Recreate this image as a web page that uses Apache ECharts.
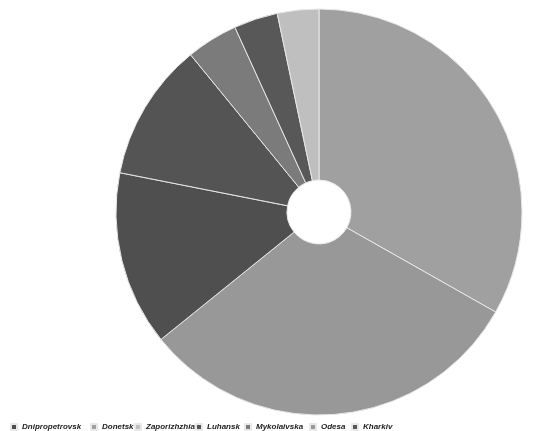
<!DOCTYPE html>
<html>
<head>
<meta charset="utf-8">
<script src="https://cdn.jsdelivr.net/npm/echarts@6/dist/echarts.min.js"></script>
<style>
    html, body { margin: 0; padding: 0; background: #fff; }
    #main { width: 534px; height: 431px; }
</style>
</head>
<body>
<div id="main"></div>
<script>
// slices, clockwise from 12 o'clock
var regions = ['Donetsk', 'Odesa', 'Dnipropetrovsk', 'Luhansk', 'Mykolaivska', 'Kharkiv', 'Zaporizhzhia'];
var shares = [33.2, 31.0, 13.9, 11.0, 4.1, 3.5, 3.3];
// legend order as shown under the chart
var legend_names = ['Dnipropetrovsk', 'Donetsk', 'Zaporizhzhia', 'Luhansk', 'Mykolaivska', 'Odesa', 'Kharkiv'];

var slice_colors = {
    'Donetsk': '#a0a0a0',
    'Odesa': '#989898',
    'Dnipropetrovsk': '#4f4f4f',
    'Luhansk': '#545454',
    'Mykolaivska': '#7b7b7b',
    'Kharkiv': '#585858',
    'Zaporizhzhia': '#bfbfbf'
};
// x of each legend item, as in the picture
var legend_left = [10, 90, 134, 195, 244, 309, 351];

var series_data = [];
for (var i = 0; i < regions.length; i++) {
    series_data.push({
        name: regions[i],
        value: shares[i],
        itemStyle: { color: slice_colors[regions[i]] }
    });
}

var legends = [];
for (var j = 0; j < legend_names.length; j++) {
    legends.push({
        data: [legend_names[j]],
        left: legend_left[j],
        top: 423,
        itemWidth: 6,
        itemHeight: 6,
        icon: 'rect',
        padding: 0,
        textStyle: {
            fontFamily: 'Liberation Sans',
            fontSize: 8,
            fontStyle: 'italic',
            fontWeight: 'bold',
            color: '#222'
        }
    });
}

var myChart = echarts.init(document.getElementById('main'));
var option = {
    backgroundColor: '#ffffff',
    animation: false,
    legend: legends,
    series: [
        {
            name: 'Regions',
            type: 'pie',
            center: [319, 212],
            radius: [32, 203],
            startAngle: 90,
            clockwise: true,
            label: { show: false },
            labelLine: { show: false },
            itemStyle: {
                borderColor: '#e8e8e8',
                borderWidth: 1
            },
            emphasis: { disabled: true },
            data: series_data
        }
    ]
};
myChart.setOption(option);
</script>
</body>
</html>
